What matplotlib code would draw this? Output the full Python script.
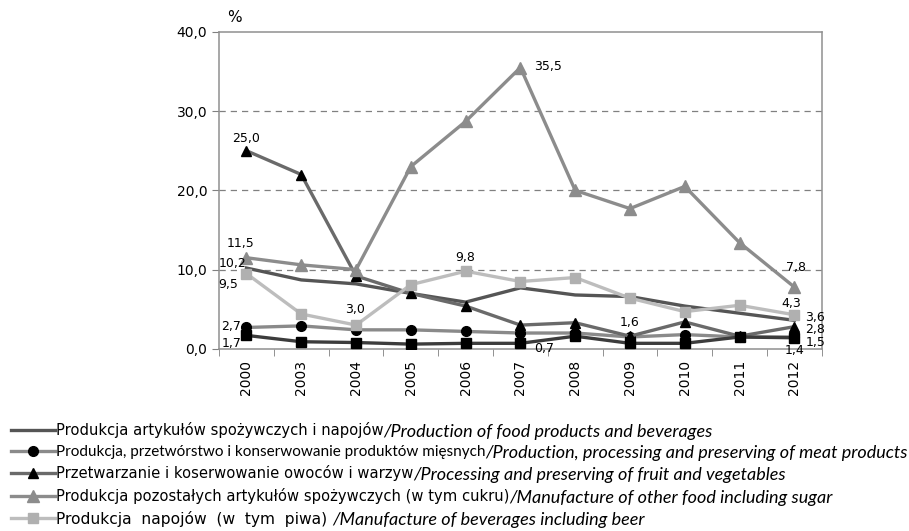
import numpy as np
import matplotlib.pyplot as plt

years = ['2000', '2003', '2004', '2005', '2006', '2007', '2008', '2009', '2010', '2011', '2012']

total = [10.2, 8.7, 8.2, 7.0, 5.9, 7.7, 6.8, 6.6, 5.4, 4.5, 3.6]
meat = [2.7, 2.9, 2.4, 2.4, 2.2, 2.0, 2.0, 1.5, 1.8, 1.5, 1.5]
fruit = [25.0, 22.0, 9.2, 7.0, 5.4, 3.0, 3.3, 1.6, 3.4, 1.6, 2.8]
other = [11.5, 10.6, 10.0, 23.0, 28.7, 35.5, 20.0, 17.7, 20.5, 13.4, 7.8]
bever = [9.5, 4.4, 3.0, 8.1, 9.8, 8.5, 9.0, 6.4, 4.7, 5.5, 4.3]
dairy = [1.7, 0.9, 0.8, 0.6, 0.7, 0.7, 1.6, 0.7, 0.7, 1.5, 1.4]

labels_pl = [
    'Produkcja artykułów spożywczych i napojów',
    'Produkcja, przetwórstwo i konserwowanie produktów mięsnych',
    'Przetwarzanie i koserwowanie owoców i warzyw',
    'Produkcja pozostałych artykułów spożywczych (w tym cukru)',
    'Produkcja  napojów  (w  tym  piwa) ',
]
labels_en = [
    '/Production of food products and beverages',
    '/Production, processing and preserving of meat products',
    '/Processing and preserving of fruit and vegetables',
    '/Manufacture of other food including sugar',
    '/Manufacture of beverages including beer',
]

fig = plt.figure(figsize=(9.09, 5.31), dpi=100)
ax = fig.add_axes([0.241, 0.343, 0.663, 0.597])
x = np.arange(len(years))

lw = 2.4
h1, = ax.plot(x, total, color='#555555', lw=lw, zorder=3)
h2, = ax.plot(x, meat, color='#8a8a8a', lw=lw, marker='o', ms=7,
              mfc='black', mec='black', zorder=3)
h3, = ax.plot(x, fruit, color='#6a6a6a', lw=lw, marker='^', ms=7,
              mfc='black', mec='black', zorder=3)
h4, = ax.plot(x, other, color='#8c8c8c', lw=lw, marker='^', ms=8,
              mfc='#8c8c8c', mec='#8c8c8c', zorder=3)
h5, = ax.plot(x, bever, color='#bdbdbd', lw=lw, marker='s', ms=7,
              mfc='#b0b0b0', mec='#b0b0b0', zorder=3)
h6, = ax.plot(x, dairy, color='#3c3c3c', lw=lw, marker='s', ms=7,
              mfc='black', mec='black', zorder=4)

ax.set_xlim(-0.5, len(years) - 0.5)
ax.set_ylim(0, 40)
ax.set_yticks([0, 10, 20, 30, 40])
ax.set_yticklabels(['0,0', '10,0', '20,0', '30,0', '40,0'], fontsize=10)
ax.set_xticks(x)
ax.set_xticklabels(years, rotation=90, fontsize=10)
ax.set_xticks(np.arange(-0.5, len(years)), minor=True)
ax.tick_params(axis='x', which='major', length=0, pad=8)
ax.tick_params(axis='x', which='minor', length=5, color='#808080')
ax.tick_params(axis='y', length=5, color='#808080', direction='out')
for y in [10, 20, 30]:
    ax.axhline(y, color='#808080', lw=0.9, ls=(0, (5, 4)), zorder=1)
for s in ax.spines.values():
    s.set_color('#909090')
    s.set_linewidth(1.1)
ax.text(-0.35, 41.2, '%', fontsize=11)

# etykiety danych
def lab(xi, series, txt, dx, dy):
    ax.annotate(txt, (xi, series[xi]), xytext=(dx, dy), textcoords='offset points',
                fontsize=9, ha='center', va='center', zorder=5)

lab(0, fruit, '25,0', 0, 9)
lab(0, other, '11,5', -4, 10)
lab(0, total, '10,2', -10, 3)
lab(0, bever, '9,5', -13, -8)
lab(0, meat, '2,7', -11, 1)
lab(0, dairy, '1,7', -11, -6)
lab(2, bever, '3,0', -1, 11)
lab(4, bever, '9,8', 0, 10)
lab(5, other, '35,5', 20, 1)
lab(5, dairy, '0,7', 17, -4)
lab(7, fruit, '1,6', 0, 10)
lab(10, other, '7,8', 1, 14)
lab(10, bever, '4,3', -2, 8)
lab(10, total, '3,6', 15, 2)
lab(10, fruit, '2,8', 15, -2)
lab(10, meat, '1,5', 15, -4)
lab(10, dairy, '1,4', 0, -9)

leg = fig.legend([h1, h2, h3, h4, h5], labels_pl, loc='upper left',
                 bbox_to_anchor=(0.012, 0.205), frameon=False, fontsize=10.6,
                 handlelength=3.0, handletextpad=0.05, labelspacing=0.45,
                 borderaxespad=0, borderpad=0)
leg.get_texts()[1].set_family('Lato')
leg.get_texts()[1].set_fontsize(11)
leg.get_texts()[4].set_fontsize(11.2)

fig.canvas.draw()
inv = fig.transFigure.inverted()
for t, en in zip(leg.get_texts(), labels_en):
    bb = t.get_window_extent()
    x0, y0 = inv.transform((bb.x1, (bb.y0 + bb.y1) / 2))
    fig.text(x0, y0, en, fontsize=13, style='italic', family='Lato',
             ha='left', va='center_baseline')

fig.savefig('out.png', dpi=100)
